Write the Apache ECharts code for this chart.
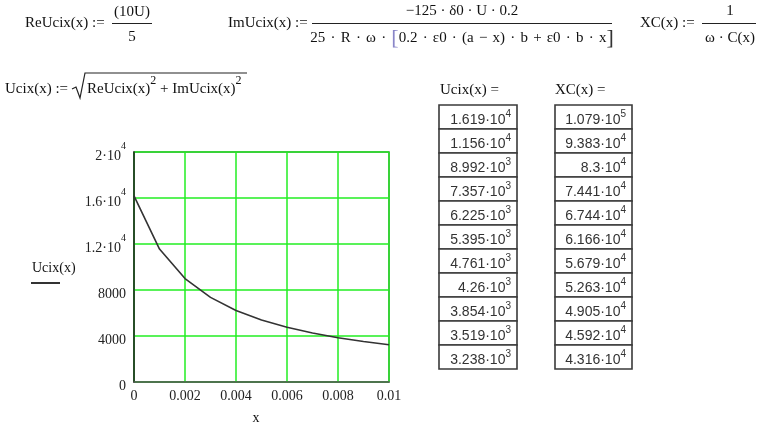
<!DOCTYPE html>
<html><head><meta charset="utf-8">
<script src="https://cdn.jsdelivr.net/npm/echarts@6/dist/echarts.min.js"></script>
<style>html,body{margin:0;padding:0;background:#fff}#c{width:757px;height:425px}</style>
</head><body><div id="c"></div>
<script>
// ---- data ----
const xValues = [0, 0.001, 0.002, 0.003, 0.004, 0.005, 0.006, 0.007, 0.008, 0.009, 0.01];
const ucixValues = [16190, 11560, 8992, 7357, 6225, 5395, 4761, 4260, 3854, 3519, 3238];
const xcValues = [107900, 93830, 83000, 74410, 67440, 61660, 56790, 52630, 49050, 45920, 43160];
const xTickLabels = ['0', '0.002', '0.004', '0.006', '0.008', '0.01'];
const yTickLabels = ['0', '4000', '8000', '1.2·10^4', '1.6·10^4', '2·10^4'];

const SERIF = '"Liberation Serif","Times New Roman",serif';
const SANS = '"Liberation Sans",Arial,sans-serif';

function supLabel(s) {
  const p = s.split('^');
  return '{p| }{b|' + p[0] + '}' + (p[1] ? '{s|' + p[1] + '}' : '');
}
function fmtCell(v) {
  const e = Math.floor(Math.log10(v) + 1e-9);
  let m = (v / Math.pow(10, e)).toPrecision(4).replace(/\.?0+$/, '');
  return '{m|' + m + '·10}{s|' + e + '}';
}

const graphics = [];
function txt(x, y, text, opt) {
  graphics.push({type: 'text', silent: true, style: Object.assign({
    x: x, y: y, text: text, fill: '#111', font: '15px ' + SERIF, align: 'left', verticalAlign: 'middle'
  }, opt || {})});
}
function line(x1, y1, x2, y2, w, c) {
  graphics.push({type: 'line', silent: true, shape: {x1: x1, y1: y1, x2: x2, y2: y2},
    style: {stroke: c || '#222', lineWidth: w || 1.2}});
}

// formulas
txt(25, 23, 'ReUcix(x) :=');
txt(132, 12, '(10U)', {align: 'center'});
line(112, 23.5, 152, 23.5);
txt(132, 37, '5', {align: 'center'});

txt(228, 23, 'ImUcix(x) :=');
txt(462, 11, '−125 · δ0 · U · 0.2', {align: 'center'});
line(312, 23.5, 612, 23.5);
txt(462, 38,
  '25{o|·}R{o|·}ω{o|·}{bl|[}0.2{o|·}ε0{o|·}(a{o|−}x){o|·}b{o|+}ε0{o|·}b{o|·}x{br|]}',
  {align: 'center',
   rich: {
     o: {fontSize: 15, fontFamily: SERIF, fill: '#111', padding: [0, 5.2]},
     bl: {fontSize: 22, fontFamily: SERIF, fill: '#8a86c8', lineHeight: 20},
     br: {fontSize: 22, fontFamily: SERIF, fill: '#333', lineHeight: 20}
   }});

txt(640, 23, 'XC(x) :=');
txt(730, 11, '1', {align: 'center'});
line(702, 23.5, 756, 23.5);
txt(730, 38, 'ω · C(x)', {align: 'center'});

txt(5, 89, 'Ucix(x) :=');
graphics.push({type: 'polyline', silent: true,
  shape: {points: [[72, 89], [76, 87], [80, 98], [85, 73], [247, 73]]},
  style: {stroke: '#222', lineWidth: 1.2, fill: null}});
txt(87, 89, '{b|ReUcix(x)}{s|2}{b| + ImUcix(x)}{s|2}', {
  rich: {
    b: {fontSize: 15, fontFamily: SERIF, fill: '#111', lineHeight: 28},
    s: {fontSize: 12, fontFamily: SERIF, fill: '#111', lineHeight: 14, verticalAlign: 'top'}
  }});

// tables
txt(440, 90, 'Ucix(x) =');
txt(555, 90, 'XC(x) =');
const rowTop = 105, rowH = 24;
function table(x0, w, values) {
  values.forEach(function (v, i) {
    graphics.push({type: 'rect', silent: true,
      shape: {x: x0, y: rowTop + i * rowH, width: w, height: rowH},
      style: {fill: '#fff', stroke: '#3a3a3a', lineWidth: 1.6}});
    graphics.push({type: 'text', silent: true, style: {
      x: x0 + w - 6, y: rowTop + i * rowH + rowH / 2 + 1, text: fmtCell(v),
      align: 'right', verticalAlign: 'middle',
      rich: {
        m: {fontSize: 14, fontFamily: SANS, fill: '#333', lineHeight: 18, verticalAlign: 'bottom'},
        s: {fontSize: 10, fontFamily: SANS, fill: '#333', lineHeight: 10, verticalAlign: 'top'}
      }}});
  });
}
table(439, 78, ucixValues);
table(555, 77, xcValues);

// axis names
txt(32, 268, 'Ucix(x)', {font: '14px ' + SERIF});
line(31, 283, 60, 283, 2, '#333');
txt(256, 418, 'x', {font: '14px ' + SERIF, align: 'center'});

const chart = echarts.init(document.getElementById('c'), null, {renderer: 'canvas'});
chart.setOption({
  animation: false,
  backgroundColor: '#fff',
  grid: {left: 134, top: 152, width: 255, height: 230, show: true, borderColor: '#555', borderWidth: 1.5, backgroundColor: 'transparent'},
  xAxis: {
    type: 'value', min: 0, max: 0.01, interval: 0.002,
    axisLine: {show: true, lineStyle: {color: '#555', width: 1.5}},
    axisTick: {show: false},
    splitLine: {show: true, lineStyle: {color: '#22ee22', width: 1.5}},
    axisLabel: {
      margin: 7, color: '#222', fontSize: 14, fontFamily: SERIF,
      formatter: function (v) { return xTickLabels[Math.round(v / 0.002)]; }
    }
  },
  yAxis: {
    type: 'value', min: 0, max: 20000, interval: 4000,
    axisLine: {show: true, lineStyle: {color: '#222', width: 1.5}},
    axisTick: {show: false},
    splitLine: {show: true, lineStyle: {color: '#22ee22', width: 1.5}},
    axisLabel: {
      margin: 8, color: '#222',
      formatter: function (v) { return supLabel(yTickLabels[Math.round(v / 4000)]); },
      rich: {
        p: {fontSize: 1, lineHeight: 22, width: 0},
        b: {fontSize: 14, fontFamily: SERIF, color: '#222', lineHeight: 14, verticalAlign: 'bottom'},
        s: {fontSize: 10, fontFamily: SERIF, color: '#222', lineHeight: 20, verticalAlign: 'top'}
      }
    }
  },
  series: [{
    type: 'line', name: 'Ucix(x)',
    data: xValues.map(function (x, i) { return [x, ucixValues[i]]; }),
    showSymbol: false, symbol: 'none',
    lineStyle: {color: '#333', width: 1.6},
    z: 5
  }],
  graphic: graphics
});
</script>
</body></html>
